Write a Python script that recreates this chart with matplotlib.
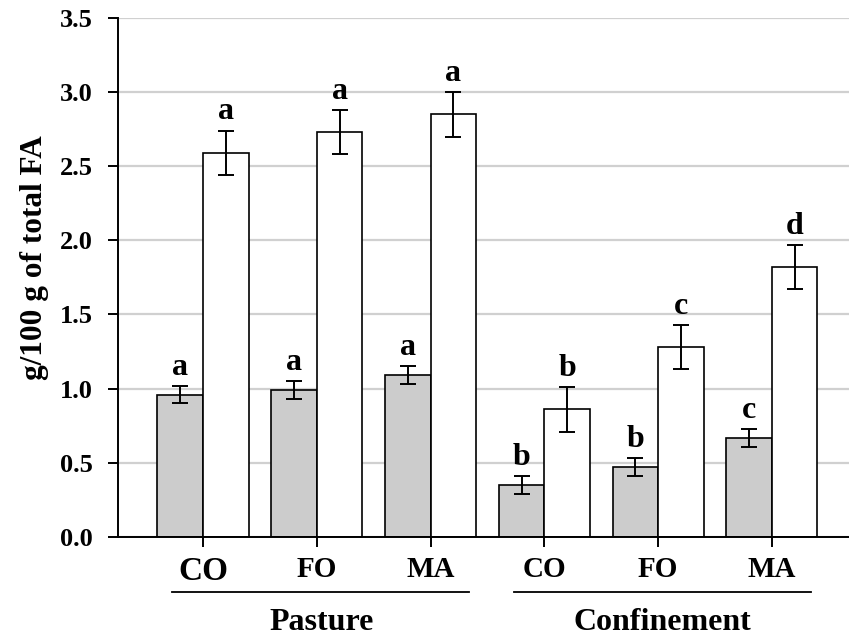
"""
Fatty acid content by diet and production system (g/100 g of total FA).
"""

### Import modules
import numpy as np
import matplotlib
matplotlib.use('Agg')
import matplotlib.pyplot as plt
import matplotlib.transforms as transforms

### Data
categories = ['CO', 'FO', 'MA', 'CO', 'FO', 'MA']
groups = ['Pasture', 'Confinement']
gray_vals = [0.96, 0.99, 1.09, 0.35, 0.47, 0.67]
gray_err = [0.06, 0.06, 0.06, 0.06, 0.06, 0.06]
white_vals = [2.59, 2.73, 2.85, 0.86, 1.28, 1.82]
white_err = [0.15, 0.15, 0.15, 0.15, 0.15, 0.15]
gray_letters = ['a', 'a', 'a', 'b', 'b', 'c']
white_letters = ['a', 'a', 'a', 'b', 'c', 'd']
yticks = [0.0, 0.5, 1.0, 1.5, 2.0, 2.5, 3.0, 3.5]

### Style
plt.rc('font', family='Liberation Serif', weight='bold')

fig = plt.figure(figsize=(8.49, 6.37), dpi=100)
ax = fig.add_axes([0.139, 0.157, 0.861, 0.815])

x = np.arange(len(categories))
w = 0.4

ax.bar(x - w, gray_vals, w, align='edge', color='#cccccc', edgecolor='black',
       linewidth=1.2, zorder=2)
ax.bar(x, white_vals, w, align='edge', color='white', edgecolor='black',
       linewidth=1.2, zorder=2)
ax.errorbar(x - w/2, gray_vals, yerr=gray_err, fmt='none', ecolor='black',
            elinewidth=1.4, capsize=5.5, capthick=1.4, zorder=3)
ax.errorbar(x + w/2, white_vals, yerr=white_err, fmt='none', ecolor='black',
            elinewidth=1.4, capsize=5.5, capthick=1.4, zorder=3)

### Significance letters
for i in range(len(categories)):
    ax.annotate(gray_letters[i], (x[i] - w/2, gray_vals[i] + gray_err[i]),
                xytext=(0, 8), textcoords='offset points', ha='center',
                va='baseline', fontsize=23, fontweight='bold')
    ax.annotate(white_letters[i], (x[i] + w/2, white_vals[i] + white_err[i]),
                xytext=(0, 8), textcoords='offset points', ha='center',
                va='baseline', fontsize=23, fontweight='bold')

### Axes
ax.set_ylim(0, 3.5)
ax.set_xlim(-0.747, 5.677)
ax.set_yticks(yticks)
ax.set_yticklabels(['%.1f' % v for v in yticks])
ax.set_xticks(x)
ax.set_xticklabels(categories)
ax.yaxis.grid(True, color='#d0d0d0', linewidth=1.6, zorder=0)
ax.set_axisbelow(True)
for side in ['top', 'right']:
    ax.spines[side].set_visible(False)
ax.spines['left'].set_linewidth(1.4)
ax.spines['bottom'].set_linewidth(1.4)
ax.tick_params(axis='y', direction='out', length=7, width=1.4, pad=11,
               labelsize=19)
ax.tick_params(axis='x', direction='out', length=7, width=1.4, pad=7,
               labelsize=21)
for lab in ax.get_xticklabels():
    lab.set_fontweight('bold')
ax.get_xticklabels()[0].set_fontsize(24)
for lab in ax.get_yticklabels():
    lab.set_fontweight('bold')

fig.text(35/849, 1 - 258/637, 'g/100 g of total FA', rotation=90,
         ha='center', va='center', fontsize=22.5, fontweight='bold')

### Group lines and labels
trans = transforms.blended_transform_factory(ax.transData, ax.transAxes)
for g, name in enumerate(groups):
    first = x[3*g]
    last = x[3*g + 2]
    ax.plot([first - 0.27, last + 0.34], [-0.106, -0.106], color='black',
            linewidth=1.3, transform=trans, clip_on=False)
    ax.text((first + last)/2 + 0.04, -0.179, name, transform=trans,
            ha='center', va='baseline', fontsize=23, fontweight='bold')

plt.savefig('out.png', dpi=100)
